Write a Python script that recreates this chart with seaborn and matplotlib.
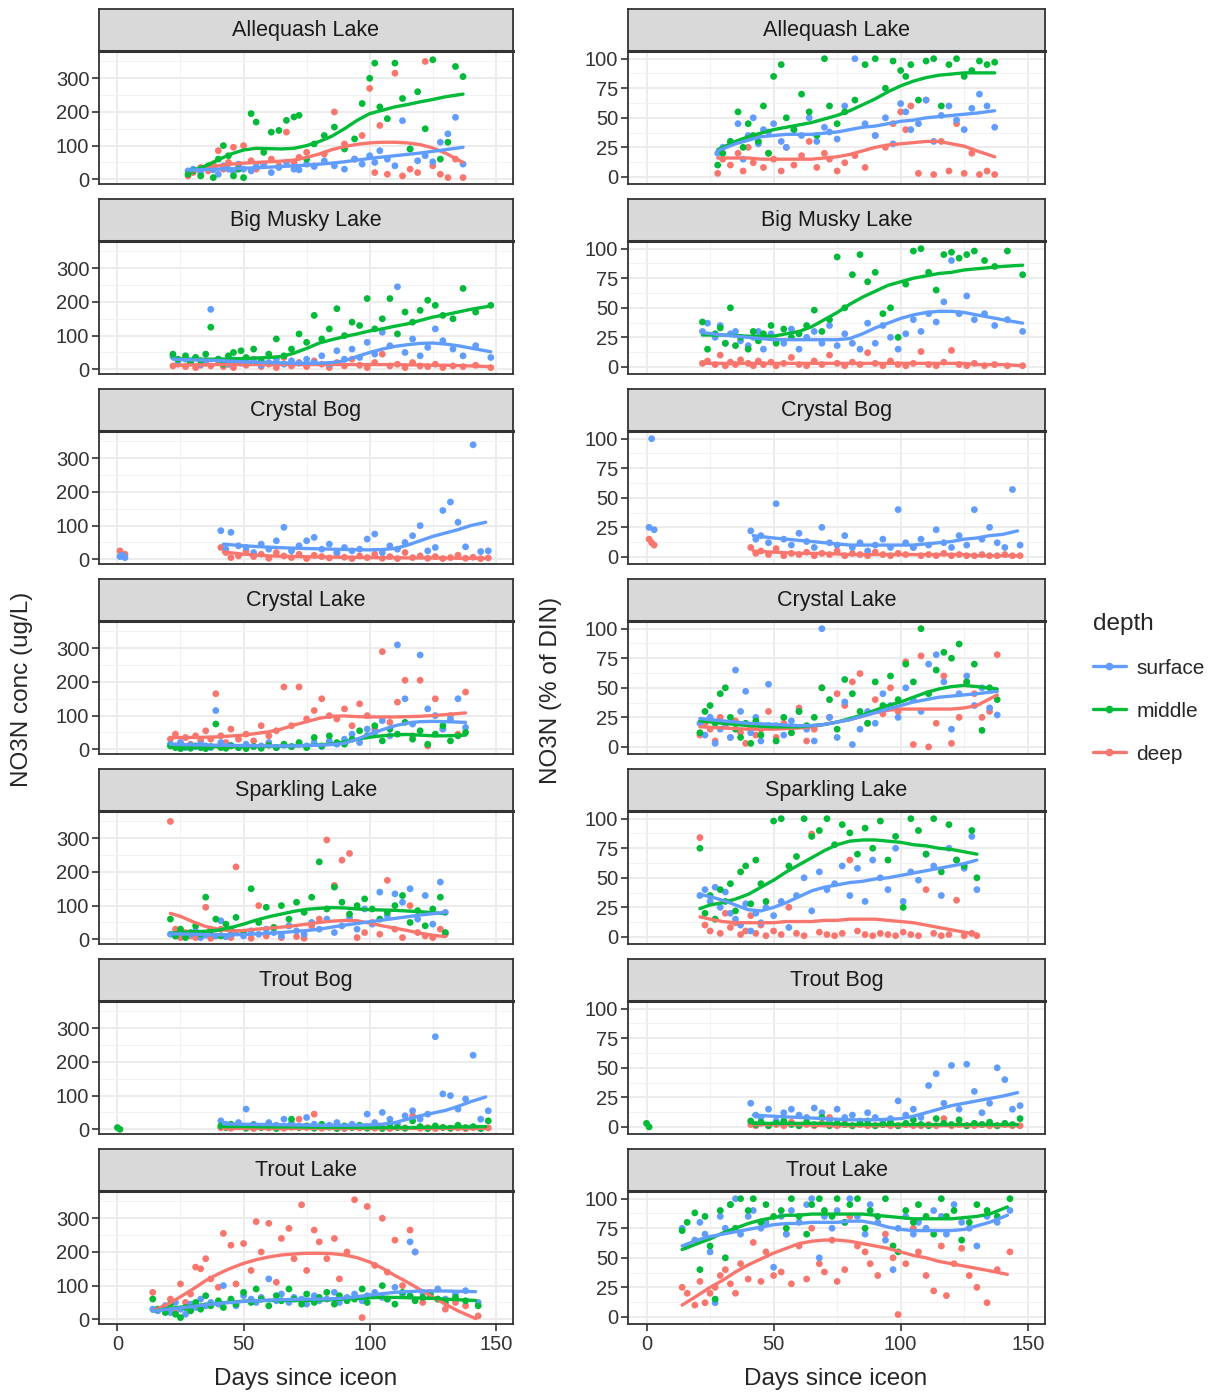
import numpy as np
import pandas as pd
import matplotlib
matplotlib.use("Agg")
import matplotlib.pyplot as plt
import seaborn as sns
from matplotlib.lines import Line2D

# ---------------- data ----------------
LAKES = ["Allequash Lake", "Big Musky Lake", "Crystal Bog", "Crystal Lake",
         "Sparkling Lake", "Trout Bog", "Trout Lake"]
DEPTHS = ["surface", "middle", "deep"]
COLORS = {"surface": "#619CFF", "middle": "#00BA38", "deep": "#F8766D"}
X_TICKS = [0, 50, 100, 150]
CONC_TICKS = [0, 100, 200, 300]
PCT_TICKS = [0, 25, 50, 75, 100]

# Allequash Lake
ALLEQ_DAYS = [28, 30, 33, 36, 38, 40, 42, 44, 46, 48, 50, 53, 55, 58, 61, 64, 67, 70, 72, 75,
              78, 82, 86, 90, 94, 97, 100, 102, 104, 107, 110, 113, 116, 119, 122, 125, 128, 131, 134, 137]
ALLEQ_CONC_SURF = [25, 30, 20, 35, 28, 15, 40, 30, 22, 45, 30, 25, 38, 42, 20, 35, 50, 30, 28, 45,
                   38, 55, 40, 30, 60, 45, 70, 50, 85, 60, 40, 174, 90, 55, 70, 52, 110, 135, 184, 45]
ALLEQ_CONC_MID = [15, 25, 10, 40, 5, 60, 100, 70, 10, 30, 5, 195, 170, 80, 140, 145, 175, 185, 190, 60,
                  105, 130, 155, 90, 120, 225, 300, 345, 215, 180, 345, 240, 90, 260, 150, 355, 60, 110, 335, 305]
ALLEQ_CONC_DEEP = [10, 20, 35, 25, 45, 85, 30, 50, 95, 40, 100, 55, 30, 45, 60, 40, 140, 50, 65, 80,
                   40, 75, 200, 105, 60, 130, 270, 20, 160, 15, 315, 10, 30, 20, 350, 40, 15, 5, 60, 5]
ALLEQ_PCT_SURF = [20, 25, 30, 45, 15, 35, 50, 28, 40, 38, 45, 30, 25, 40, 35, 50, 30, 42, 38, 32,
                  60, 100, 45, 35, 50, 28, 62, 55, 40, 45, 65, 30, 52, 60, 48, 40, 58, 70, 60, 42]
ALLEQ_PCT_MID = [10, 20, 30, 55, 25, 45, 35, 30, 60, 20, 85, 95, 50, 40, 70, 55, 35, 100, 60, 45,
                 55, 65, 95, 100, 75, 98, 90, 85, 95, 65, 98, 100, 60, 95, 100, 85, 90, 98, 95, 97]
ALLEQ_PCT_DEEP = [3, 15, 10, 20, 5, 25, 12, 35, 8, 20, 15, 5, 25, 10, 18, 30, 8, 20, 15, 5,
                  12, 18, 8, 35, 25, 45, 55, 40, 60, 3, 65, 2, 30, 5, 45, 3, 20, 2, 5, 2]
ALLEQ_FIT_DAYS = [28, 35, 40, 45, 50, 55, 60, 65, 70, 75, 80, 85, 90, 95, 100, 105, 110, 115, 120, 125, 130, 137]
ALLEQ_FIT_CONC_SURF = [27, 29, 30, 31, 33, 34, 36, 38, 40, 42, 45, 48, 52, 57, 62, 66, 70, 74, 78, 83, 88, 95]
ALLEQ_FIT_CONC_MID = [22, 40, 58, 75, 87, 92, 91, 90, 92, 100, 112, 128, 150, 175, 195, 205, 215, 222, 230, 237, 245, 253]
ALLEQ_FIT_CONC_DEEP = [22, 32, 40, 45, 48, 50, 52, 54, 57, 65, 75, 88, 97, 104, 108, 110, 110, 108, 103, 93, 78, 50]
ALLEQ_FIT_PCT_SURF = [22, 28, 31, 34, 35, 36, 36, 36, 37, 38, 40, 42, 43, 45, 47, 48, 50, 51, 52, 53, 54, 56]
ALLEQ_FIT_PCT_MID = [23, 30, 34, 37, 40, 42, 44, 46, 49, 52, 56, 61, 66, 72, 77, 81, 84, 86, 87, 88, 88, 88]
ALLEQ_FIT_PCT_DEEP = [16, 16, 16, 15, 15, 15, 15, 15, 16, 17, 19, 22, 25, 27, 28, 29, 30, 30, 28, 26, 22, 17]

# Big Musky Lake
BIGM_DAYS = [22, 24, 27, 29, 31, 33, 35, 37, 40, 42, 44, 46, 49, 51, 54, 57, 60, 63, 66, 69, 72, 75,
             78, 81, 84, 87, 90, 93, 96, 99, 102, 105, 108, 111, 114, 117, 120, 123, 126, 129, 133, 137, 142, 148]
BIGM_CONC_SURF = [38, 25, 30, 20, 35, 15, 25, 178, 30, 20, 15, 28, 18, 25, 22, 12, 20, 30, 15, 25, 18, 30,
                  20, 40, 15, 55, 30, 60, 35, 80, 45, 110, 70, 245, 50, 90, 40, 65, 120, 85, 60, 40, 70, 35]
BIGM_CONC_MID = [45, 30, 40, 20, 35, 25, 45, 125, 30, 15, 40, 50, 55, 35, 60, 25, 45, 90, 40, 60, 105, 80,
                 160, 90, 120, 180, 100, 140, 130, 210, 120, 150, 210, 105, 170, 140, 175, 205, 190, 160, 150, 240, 170, 190]
BIGM_CONC_DEEP = [10, 15, 8, 20, 5, 12, 18, 10, 25, 8, 15, 5, 20, 12, 30, 8, 15, 5, 35, 10, 20, 8,
                  25, 15, 5, 20, 10, 30, 12, 5, 20, 45, 10, 15, 5, 20, 10, 8, 15, 5, 10, 8, 12, 5]
BIGM_PCT_SURF = [30, 37, 25, 35, 20, 28, 30, 22, 18, 25, 30, 15, 28, 22, 20, 32, 15, 25, 30, 20, 35, 18,
                 28, 20, 15, 37, 20, 35, 25, 15, 28, 40, 30, 45, 38, 55, 90, 45, 60, 40, 45, 35, 40, 30]
BIGM_PCT_MID = [38, 15, 28, 33, 20, 50, 18, 25, 15, 30, 22, 28, 35, 20, 32, 25, 28, 35, 48, 30, 40, 93,
                50, 78, 95, 72, 80, 45, 50, 25, 70, 98, 100, 80, 65, 95, 97, 92, 95, 98, 90, 85, 98, 78]
BIGM_PCT_DEEP = [3, 5, 2, 10, 1, 4, 2, 6, 3, 1, 5, 2, 4, 1, 3, 8, 2, 1, 5, 2, 10, 3,
                 1, 4, 2, 12, 3, 1, 5, 2, 1, 3, 13, 2, 1, 4, 14, 2, 1, 3, 1, 2, 1, 1]
BIGM_FIT_DAYS = [22, 30, 40, 50, 60, 65, 70, 75, 80, 85, 90, 95, 100, 105, 110, 115, 120, 125, 130, 135, 140, 148]
BIGM_FIT_CONC_SURF = [30, 28, 26, 22, 20, 19, 18, 18, 18, 20, 25, 38, 50, 60, 68, 73, 77, 78, 75, 70, 63, 52]
BIGM_FIT_CONC_MID = [32, 30, 30, 32, 35, 38, 48, 62, 78, 88, 97, 105, 114, 120, 128, 135, 145, 155, 162, 170, 178, 188]
BIGM_FIT_CONC_DEEP = [12, 13, 14, 14, 14, 14, 14, 14, 14, 14, 14, 14, 14, 14, 14, 13, 13, 12, 12, 11, 10, 8]
BIGM_FIT_PCT_SURF = [29, 27, 25, 23, 23, 23, 23, 23, 24, 28, 33, 37, 41, 44, 46, 47, 47, 46, 44, 42, 40, 37]
BIGM_FIT_PCT_MID = [27, 27, 26, 26, 30, 34, 40, 46, 53, 59, 64, 69, 72, 75, 77, 79, 80, 82, 83, 84, 85, 86]
BIGM_FIT_PCT_DEEP = [3, 3, 3, 3, 3, 3, 3, 3, 3, 3, 3, 3, 3, 3, 3, 3, 3, 3, 2, 2, 2, 1]

# Crystal Bog (no middle samples)
CBOG_DAYS = [1, 2, 3, 41, 43, 45, 48, 51, 54, 57, 60, 63, 66, 69, 72, 75, 78, 81, 84, 87,
             90, 93, 96, 99, 102, 105, 108, 111, 114, 117, 120, 123, 126, 129, 132, 135, 138, 141, 144, 147]
CBOG_CONC_SURF = [8, 12, 5, 85, 30, 80, 40, 35, 20, 45, 30, 55, 95, 25, 40, 55, 65, 30, 45, 20,
                  35, 25, 30, 60, 75, 20, 40, 30, 50, 70, 100, 25, 35, 145, 170, 110, 37, 340, 23, 25]
CBOG_CONC_DEEP = [25, 10, 15, 35, 20, 5, 10, 25, 8, 15, 3, 20, 10, 5, 15, 2, 12, 8, 4, 18,
                  6, 2, 10, 5, 15, 3, 8, 2, 20, 5, 10, 3, 8, 2, 5, 12, 3, 6, 2, 4]
CBOG_PCT_SURF = [25, 100, 23, 22, 15, 18, 12, 45, 15, 10, 20, 13, 8, 25, 12, 10, 18, 8, 12, 5,
                 10, 15, 8, 40, 12, 8, 15, 10, 23, 12, 8, 18, 10, 40, 15, 25, 12, 8, 57, 10]
CBOG_PCT_DEEP = [15, 12, 10, 8, 3, 5, 2, 7, 1, 3, 2, 4, 1, 3, 2, 5, 1, 3, 2, 1,
                 4, 2, 1, 3, 2, 8, 1, 2, 1, 3, 1, 2, 1, 1, 2, 1, 1, 2, 1, 1]
CBOG_FIT_DAYS = [42, 50, 60, 70, 80, 90, 100, 105, 110, 115, 120, 125, 130, 135, 140, 146]
CBOG_FIT_CONC_SURF = [45, 40, 36, 33, 31, 29, 28, 29, 32, 42, 55, 68, 78, 88, 100, 110]
CBOG_FIT_CONC_DEEP = [22, 15, 10, 8, 7, 6, 5, 5, 5, 4, 4, 4, 4, 3, 3, 3]
CBOG_FIT_PCT_SURF = [18, 16, 14, 12, 10, 10, 10, 10, 11, 12, 13, 15, 16, 18, 19, 22]
CBOG_FIT_PCT_DEEP = [5, 4, 3, 3, 2, 2, 2, 2, 2, 2, 2, 2, 1, 1, 1, 1]

# Crystal Lake
CLAKE_DAYS = [21, 23, 25, 27, 29, 31, 33, 35, 37, 39, 41, 43, 45, 48, 51, 54, 57, 60, 63, 66, 69, 72,
              75, 78, 81, 84, 87, 90, 93, 96, 99, 102, 105, 108, 111, 114, 117, 120, 123, 126, 129, 132, 135, 138]
CLAKE_CONC_SURF = [15, 10, 20, 5, 12, 8, 15, 10, 5, 115, 20, 8, 12, 5, 15, 8, 10, 20, 5, 12, 8, 15,
                   10, 20, 8, 25, 15, 30, 45, 20, 60, 50, 85, 40, 310, 150, 75, 280, 120, 100, 60, 90, 150, 65]
CLAKE_CONC_MID = [10, 5, 2, 8, 3, 10, 5, 2, 8, 75, 5, 3, 10, 5, 2, 8, 3, 12, 5, 15, 8, 20,
                  5, 35, 10, 40, 20, 15, 30, 55, 40, 70, 25, 60, 45, 80, 30, 55, 15, 45, 70, 25, 40, 50]
CLAKE_CONC_DEEP = [30, 45, 20, 35, 15, 40, 25, 55, 30, 165, 40, 20, 60, 30, 45, 25, 70, 40, 55, 185, 70, 185,
                   90, 115, 150, 100, 90, 120, 70, 135, 100, 60, 290, 80, 140, 205, 40, 205, 10, 150, 60, 100, 45, 170]
CLAKE_PCT_SURF = [20, 10, 25, 3, 15, 20, 8, 65, 30, 47, 12, 25, 5, 53, 18, 10, 22, 30, 15, 5, 100, 25,
                  8, 38, 2, 15, 30, 20, 45, 35, 25, 50, 40, 30, 70, 78, 55, 15, 45, 60, 35, 50, 33, 27]
CLAKE_PCT_MID = [12, 30, 35, 20, 45, 50, 25, 15, 8, 20, 3, 22, 10, 18, 5, 25, 12, 30, 18, 25, 50, 40,
                 15, 57, 45, 30, 20, 55, 35, 60, 40, 70, 55, 100, 45, 65, 80, 75, 87, 55, 70, 14, 50, 40]
CLAKE_PCT_DEEP = [10, 20, 15, 5, 25, 18, 8, 22, 12, 3, 18, 10, 15, 30, 8, 20, 12, 33, 5, 15, 50, 25,
                  45, 35, 55, 62, 20, 40, 28, 50, 30, 72, 2, 77, 0, 20, 60, 3, 25, 55, 45, 25, 30, 78]
CLAKE_FIT_DAYS = [21, 30, 40, 50, 60, 65, 70, 75, 80, 85, 90, 95, 100, 105, 110, 115, 120, 125, 130, 138]
CLAKE_FIT_CONC_SURF = [15, 13, 12, 11, 10, 10, 10, 11, 12, 14, 18, 30, 45, 58, 70, 78, 82, 83, 82, 80]
CLAKE_FIT_CONC_MID = [8, 8, 8, 8, 9, 9, 10, 11, 13, 16, 22, 30, 36, 40, 43, 44, 42, 40, 40, 42]
CLAKE_FIT_CONC_DEEP = [35, 35, 37, 42, 52, 60, 72, 82, 92, 98, 99, 97, 96, 96, 96, 97, 98, 100, 103, 108]
CLAKE_FIT_PCT_SURF = [24, 22, 20, 19, 18, 18, 19, 21, 23, 26, 29, 32, 35, 38, 40, 42, 43, 44, 45, 47]
CLAKE_FIT_PCT_MID = [22, 20, 18, 17, 17, 18, 19, 21, 24, 27, 31, 35, 38, 42, 46, 49, 51, 52, 51, 49]
CLAKE_FIT_PCT_DEEP = [17, 16, 15, 15, 16, 17, 19, 21, 23, 26, 29, 31, 32, 32, 32, 32, 32, 33, 35, 44]

# Sparkling Lake
SPARK_DAYS = [21, 23, 25, 27, 29, 31, 33, 35, 37, 39, 41, 43, 45, 47, 50, 53, 56, 59, 62, 65, 68,
              71, 74, 77, 80, 83, 86, 89, 92, 95, 98, 101, 104, 107, 110, 113, 116, 119, 122, 125, 128, 130]
SPARK_CONC_SURF = [15, 10, 20, 8, 15, 25, 5, 12, 30, 10, 55, 8, 15, 20, 10, 25, 15, 30, 20, 10, 40,
                   25, 15, 50, 30, 60, 20, 40, 65, 30, 90, 45, 140, 70, 135, 110, 150, 60, 130, 45, 170, 80]
SPARK_CONC_MID = [60, 10, 30, 5, 20, 40, 15, 125, 25, 60, 10, 45, 30, 65, 20, 150, 50, 95, 35, 100, 60,
                  110, 80, 125, 230, 90, 155, 110, 75, 100, 120, 90, 60, 80, 100, 130, 50, 85, 40, 90, 125, 20]
SPARK_CONC_DEEP = [350, 30, 5, 20, 10, 5, 15, 95, 3, 10, 30, 8, 5, 215, 15, 3, 100, 10, 35, 5, 40,
                   8, 3, 40, 60, 295, 160, 235, 255, 5, 20, 50, 15, 175, 30, 5, 100, 20, 10, 5, 30, 15]
SPARK_PCT_SURF = [35, 40, 30, 42, 25, 38, 20, 15, 10, 28, 5, 20, 12, 25, 18, 30, 8, 35, 50, 22, 55,
                  40, 45, 60, 35, 58, 30, 65, 50, 40, 75, 30, 55, 48, 70, 60, 35, 75, 65, 58, 85, 40]
SPARK_PCT_MID = [75, 20, 35, 15, 40, 30, 45, 22, 55, 60, 28, 65, 45, 30, 98, 100, 60, 68, 100, 85, 90,
                 100, 78, 95, 88, 70, 92, 75, 98, 65, 85, 25, 100, 90, 70, 100, 55, 95, 65, 60, 90, 50]
SPARK_PCT_DEEP = [84, 10, 5, 15, 3, 20, 8, 12, 2, 5, 18, 3, 10, 1, 5, 2, 25, 3, 1, 87, 4,
                  2, 1, 3, 65, 5, 2, 1, 3, 2, 1, 4, 2, 1, 40, 3, 1, 2, 31, 1, 3, 1]
SPARK_FIT_DAYS = [21, 25, 30, 35, 40, 45, 50, 55, 60, 65, 70, 75, 80, 85, 90, 95, 100, 105, 110, 115, 120, 125, 130]
SPARK_FIT_CONC_SURF = [16, 16, 15, 14, 13, 13, 14, 16, 18, 20, 23, 26, 30, 36, 42, 47, 52, 57, 62, 67, 72, 76, 80]
SPARK_FIT_CONC_MID = [18, 20, 22, 24, 27, 35, 45, 57, 67, 75, 83, 89, 92, 94, 93, 90, 88, 87, 86, 84, 82, 79, 76]
SPARK_FIT_CONC_DEEP = [77, 68, 52, 38, 30, 25, 26, 30, 33, 36, 40, 45, 50, 54, 56, 55, 48, 40, 33, 26, 18, 12, 8]
SPARK_FIT_PCT_SURF = [36, 34, 31, 27, 23, 22, 25, 29, 34, 39, 42, 44, 46, 47, 49, 50, 52, 54, 56, 58, 60, 62, 65]
SPARK_FIT_PCT_MID = [24, 27, 29, 32, 36, 42, 48, 55, 61, 67, 73, 78, 81, 82, 82, 81, 80, 78, 77, 75, 74, 72, 70]
SPARK_FIT_PCT_DEEP = [17, 15, 13, 12, 12, 12, 12, 13, 13, 13, 14, 14, 15, 15, 15, 14, 13, 12, 10, 8, 6, 4, 2]

# Trout Bog (None = not sampled)
TBOG_DAYS = [0, 1, 41, 43, 45, 48, 51, 54, 57, 60, 63, 66, 69, 72, 75, 78, 81, 84, 87, 90,
             93, 96, 99, 102, 105, 108, 111, 114, 117, 120, 123, 126, 129, 132, 135, 138, 141, 144, 147]
TBOG_CONC_SURF = [None, None, 25, 15, 10, 20, 60, 15, 8, 20, 12, 30, 18, 10, 35, 15, 8, 12, 20, 5,
                  15, 10, 45, 20, 50, 30, 15, 40, 55, 30, 45, 275, 105, 100, 60, 90, 220, 30, 55]
TBOG_CONC_MID = [5, 0, 10, 5, 15, 8, 3, 12, 5, 10, 2, 8, 30, 5, 10, 3, 15, 6, 2, 10,
                 5, 12, 3, 8, 2, 15, 5, 3, 25, 8, 2, 10, 5, 3, 12, 5, 8, 2, 25]
TBOG_CONC_DEEP = [None, None, 5, 8, 3, 10, 5, 2, 8, 4, 10, 3, 6, 30, 5, 45, 3, 8, 5, 2,
                  6, 4, 8, 3, 5, 2, 6, 4, 40, 3, 5, 2, 6, 3, 4, 2, 5, 3, 4]
TBOG_PCT_SURF = [None, None, 20, 10, 8, 15, 5, 12, 15, 10, 8, 16, 12, 5, 15, 8, 10, 5, 12, 8,
                 4, 7, 22, 10, 15, 8, 35, 45, 20, 52, 15, 53, 30, 12, 20, 50, 40, 15, 18]
TBOG_PCT_MID = [3, 0, 5, 2, 4, 1, 3, 5, 2, 1, 4, 2, 8, 1, 3, 2, 1, 3, 5, 1,
                2, 4, 1, 3, 6, 2, 1, 7, 3, 2, 6, 1, 3, 2, 4, 1, 3, 2, 7]
TBOG_PCT_DEEP = [None, None, 2, 1, 3, 1, 2, 1, 4, 1, 2, 1, 3, 8, 1, 6, 1, 2, 1, 1,
                 2, 1, 1, 2, 1, 1, 2, 1, 7, 1, 2, 1, 1, 2, 1, 1, 2, 1, 1]
TBOG_FIT_DAYS = [42, 50, 60, 70, 80, 90, 100, 105, 110, 115, 120, 125, 130, 135, 140, 146]
TBOG_FIT_CONC_SURF = [16, 15, 14, 13, 12, 12, 13, 15, 20, 30, 40, 48, 56, 68, 82, 96]
TBOG_FIT_CONC_MID = [8, 8, 7, 7, 6, 6, 5, 5, 5, 5, 6, 6, 6, 7, 7, 8]
TBOG_FIT_CONC_DEEP = [5, 5, 5, 5, 5, 5, 5, 5, 5, 5, 5, 5, 5, 5, 5, 5]
TBOG_FIT_PCT_SURF = [10, 9, 8, 7, 6, 6, 7, 9, 12, 15, 18, 20, 22, 24, 26, 29]
TBOG_FIT_PCT_MID = [3, 3, 3, 3, 2, 2, 2, 2, 2, 2, 2, 2, 2, 2, 2, 2]
TBOG_FIT_PCT_DEEP = [2, 2, 2, 1, 1, 1, 1, 1, 1, 1, 1, 1, 1, 1, 1, 1]

# Trout Lake
TLAKE_DAYS = [14, 16, 19, 21, 23, 25, 27, 29, 31, 33, 35, 37, 40, 42, 45, 47, 50, 53, 55, 57, 60, 63, 65, 68, 70,
              73, 75, 78, 80, 83, 86, 88, 91, 94, 97, 99, 102, 105, 107, 110, 113, 116, 118, 121, 124, 127, 130, 134, 138, 143]
TLAKE_CONC_SURF = [30, 25, 40, 20, 50, 30, 15, 45, 35, 60, 40, 50, 45, 100, 55, 40, 70, 60, 50, 65, 120, 55, 75, 50, 65,
                   60, 45, 70, 55, 60, 80, 50, 65, 75, 55, 70, 80, 65, 60, 95, 75, 230, 200, 80, 70, 90, 60, 75, 85, 50]
TLAKE_CONC_MID = [60, 30, 20, 45, 15, 5, 35, 25, 50, 30, 70, 40, 55, 35, 60, 45, 80, 50, 90, 60, 40, 70, 55, 90, 60,
                  45, 75, 50, 65, 80, 45, 70, 55, 60, 90, 50, 70, 100, 60, 45, 80, 70, 55, 65, 75, 60, 50, 65, 55, 40]
TLAKE_CONC_DEEP = [80, 30, 40, 60, 20, 105, 50, 75, 155, 150, 180, 120, 95, 255, 220, 105, 225, 145, 290, 200, 285, 110, 240, 270, 180,
                   340, 145, 265, 230, 180, 240, 120, 200, 355, 5, 335, 160, 300, 140, 235, 100, 265, 200, 50, 80, 60, 30, 50, 40, 10]
TLAKE_PCT_SURF = [75, 60, 65, 80, 70, 55, 12, 85, 75, 95, 100, 70, 85, 90, 75, 80, 42, 85, 70, 90, 80, 95, 100, 50, 85,
                  75, 90, 80, 100, 85, 70, 95, 80, 65, 40, 75, 85, 70, 80, 75, 90, 85, 70, 95, 80, 75, 60, 85, 80, 90]
TLAKE_PCT_MID = [73, 80, 88, 40, 85, 60, 15, 90, 50, 95, 75, 100, 90, 100, 80, 95, 85, 90, 75, 100, 85, 70, 95, 100, 90,
                 85, 100, 80, 95, 100, 75, 90, 85, 100, 60, 55, 90, 80, 95, 85, 70, 100, 85, 90, 65, 80, 95, 90, 85, 100]
TLAKE_PCT_DEEP = [25, 20, 10, 30, 12, 20, 25, 35, 40, 28, 20, 45, 32, 63, 30, 55, 35, 38, 70, 28, 60, 32, 75, 45, 38,
                  65, 30, 40, 85, 60, 55, 45, 35, 70, 50, 2, 45, 75, 55, 35, 22, 60, 18, 45, 58, 35, 25, 12, 40, 55]
TLAKE_FIT_DAYS = [14, 20, 25, 30, 35, 40, 45, 50, 55, 60, 65, 70, 75, 80, 85, 90, 95, 100, 105, 110, 115, 120, 125, 130, 135, 142]
TLAKE_FIT_CONC_SURF = [24, 30, 34, 38, 43, 47, 50, 53, 55, 57, 58, 59, 60, 60, 61, 63, 67, 72, 76, 80, 82, 84, 84, 84, 83, 82]
TLAKE_FIT_CONC_MID = [24, 32, 36, 40, 44, 48, 51, 54, 55, 56, 56, 56, 56, 57, 58, 60, 62, 64, 65, 65, 64, 63, 62, 60, 58, 56]
TLAKE_FIT_CONC_DEEP = [25, 45, 67, 90, 115, 135, 152, 166, 177, 185, 191, 194, 196, 196, 195, 191, 183, 170, 152, 130, 110, 88, 66, 45, 25, 2]
TLAKE_FIT_PCT_SURF = [60, 65, 68, 70, 72, 74, 76, 78, 79, 79, 80, 80, 80, 81, 81, 79, 76, 74, 73, 73, 73, 73, 74, 77, 80, 86]
TLAKE_FIT_PCT_MID = [57, 62, 66, 71, 75, 79, 82, 84, 86, 86, 87, 87, 87, 87, 87, 86, 85, 84, 83, 83, 83, 83, 84, 85, 87, 93]
TLAKE_FIT_PCT_DEEP = [10, 18, 25, 31, 38, 44, 49, 54, 58, 62, 64, 65, 65, 64, 62, 60, 58, 55, 52, 50, 47, 45, 43, 41, 39, 36]

# ---------------- assemble tables ----------------
LAKE_DATA = {
    "Allequash Lake": (ALLEQ_DAYS, {"conc": {"surface": ALLEQ_CONC_SURF, "middle": ALLEQ_CONC_MID, "deep": ALLEQ_CONC_DEEP},
                                    "pct": {"surface": ALLEQ_PCT_SURF, "middle": ALLEQ_PCT_MID, "deep": ALLEQ_PCT_DEEP}},
                       ALLEQ_FIT_DAYS, {"conc": {"surface": ALLEQ_FIT_CONC_SURF, "middle": ALLEQ_FIT_CONC_MID, "deep": ALLEQ_FIT_CONC_DEEP},
                                        "pct": {"surface": ALLEQ_FIT_PCT_SURF, "middle": ALLEQ_FIT_PCT_MID, "deep": ALLEQ_FIT_PCT_DEEP}}),
    "Big Musky Lake": (BIGM_DAYS, {"conc": {"surface": BIGM_CONC_SURF, "middle": BIGM_CONC_MID, "deep": BIGM_CONC_DEEP},
                                   "pct": {"surface": BIGM_PCT_SURF, "middle": BIGM_PCT_MID, "deep": BIGM_PCT_DEEP}},
                       BIGM_FIT_DAYS, {"conc": {"surface": BIGM_FIT_CONC_SURF, "middle": BIGM_FIT_CONC_MID, "deep": BIGM_FIT_CONC_DEEP},
                                       "pct": {"surface": BIGM_FIT_PCT_SURF, "middle": BIGM_FIT_PCT_MID, "deep": BIGM_FIT_PCT_DEEP}}),
    "Crystal Bog": (CBOG_DAYS, {"conc": {"surface": CBOG_CONC_SURF, "deep": CBOG_CONC_DEEP},
                                "pct": {"surface": CBOG_PCT_SURF, "deep": CBOG_PCT_DEEP}},
                    CBOG_FIT_DAYS, {"conc": {"surface": CBOG_FIT_CONC_SURF, "deep": CBOG_FIT_CONC_DEEP},
                                    "pct": {"surface": CBOG_FIT_PCT_SURF, "deep": CBOG_FIT_PCT_DEEP}}),
    "Crystal Lake": (CLAKE_DAYS, {"conc": {"surface": CLAKE_CONC_SURF, "middle": CLAKE_CONC_MID, "deep": CLAKE_CONC_DEEP},
                                  "pct": {"surface": CLAKE_PCT_SURF, "middle": CLAKE_PCT_MID, "deep": CLAKE_PCT_DEEP}},
                     CLAKE_FIT_DAYS, {"conc": {"surface": CLAKE_FIT_CONC_SURF, "middle": CLAKE_FIT_CONC_MID, "deep": CLAKE_FIT_CONC_DEEP},
                                      "pct": {"surface": CLAKE_FIT_PCT_SURF, "middle": CLAKE_FIT_PCT_MID, "deep": CLAKE_FIT_PCT_DEEP}}),
    "Sparkling Lake": (SPARK_DAYS, {"conc": {"surface": SPARK_CONC_SURF, "middle": SPARK_CONC_MID, "deep": SPARK_CONC_DEEP},
                                    "pct": {"surface": SPARK_PCT_SURF, "middle": SPARK_PCT_MID, "deep": SPARK_PCT_DEEP}},
                       SPARK_FIT_DAYS, {"conc": {"surface": SPARK_FIT_CONC_SURF, "middle": SPARK_FIT_CONC_MID, "deep": SPARK_FIT_CONC_DEEP},
                                        "pct": {"surface": SPARK_FIT_PCT_SURF, "middle": SPARK_FIT_PCT_MID, "deep": SPARK_FIT_PCT_DEEP}}),
    "Trout Bog": (TBOG_DAYS, {"conc": {"surface": TBOG_CONC_SURF, "middle": TBOG_CONC_MID, "deep": TBOG_CONC_DEEP},
                              "pct": {"surface": TBOG_PCT_SURF, "middle": TBOG_PCT_MID, "deep": TBOG_PCT_DEEP}},
                  TBOG_FIT_DAYS, {"conc": {"surface": TBOG_FIT_CONC_SURF, "middle": TBOG_FIT_CONC_MID, "deep": TBOG_FIT_CONC_DEEP},
                                  "pct": {"surface": TBOG_FIT_PCT_SURF, "middle": TBOG_FIT_PCT_MID, "deep": TBOG_FIT_PCT_DEEP}}),
    "Trout Lake": (TLAKE_DAYS, {"conc": {"surface": TLAKE_CONC_SURF, "middle": TLAKE_CONC_MID, "deep": TLAKE_CONC_DEEP},
                                "pct": {"surface": TLAKE_PCT_SURF, "middle": TLAKE_PCT_MID, "deep": TLAKE_PCT_DEEP}},
                   TLAKE_FIT_DAYS, {"conc": {"surface": TLAKE_FIT_CONC_SURF, "middle": TLAKE_FIT_CONC_MID, "deep": TLAKE_FIT_CONC_DEEP},
                                    "pct": {"surface": TLAKE_FIT_PCT_SURF, "middle": TLAKE_FIT_PCT_MID, "deep": TLAKE_FIT_PCT_DEEP}}),
}

POINT_ORDER = ["deep", "surface", "middle"]
LINE_ORDER = ["deep", "middle", "surface"]


def long_table(days, series, order):
    rows = []
    for depth in order:
        if depth not in series:
            continue
        for d, v in zip(days, series[depth]):
            if v is None:
                continue
            rows.append((d, float(v), depth))
    return pd.DataFrame(rows, columns=["day", "value", "depth"])


# ---------------- figure ----------------
sns.set_theme(style="white")
plt.rcParams["font.family"] = ["Liberation Sans", "DejaVu Sans"]

W, H = 1217, 1393
fig = plt.figure(figsize=(W / 100, H / 100), dpi=100)
fig.patch.set_facecolor("white")

COLS = [(99, 513), (628, 1045)]
ROW_STEP = 190
STRIP_TOP, PANEL_TOP, PANEL_BOT = 9, 51, 184
XLIM = (-7.3, 156.8)
YLIMS = {"conc": (-14, 381), "pct": (-6.0, 106.5)}
BORDER = "#333333"


def frac_rect(x0, x1, ytop, ybot):
    return [x0 / W, 1 - ybot / H, (x1 - x0) / W, (ybot - ytop) / H]


for r, lake in enumerate(LAKES):
    days, vals, fdays, fits = LAKE_DATA[lake]
    for c, measure in enumerate(["conc", "pct"]):
        x0, x1 = COLS[c]
        yo = r * ROW_STEP
        ax = fig.add_axes(frac_rect(x0, x1, PANEL_TOP + yo, PANEL_BOT + yo))
        ax.set_facecolor("white")

        pts = long_table(days, vals[measure], POINT_ORDER)
        sns.scatterplot(data=pts, x="day", y="value", hue="depth", palette=COLORS,
                        s=24, linewidth=0, alpha=1, legend=False, ax=ax, zorder=3)
        fit = long_table(fdays, fits[measure], LINE_ORDER)
        sns.lineplot(data=fit, x="day", y="value", hue="depth", palette=COLORS,
                     hue_order=[d for d in LINE_ORDER if d in fits[measure]],
                     linewidth=2.4, legend=False, ax=ax, zorder=4, sort=True)

        ax.set_xlim(*XLIM)
        ax.set_ylim(*YLIMS[measure])
        ax.set_xticks(X_TICKS)
        ax.set_xticks([25, 75, 125], minor=True)
        if measure == "conc":
            ax.set_yticks(CONC_TICKS)
            ax.set_yticks([50, 150, 250, 350], minor=True)
        else:
            ax.set_yticks(PCT_TICKS)
            ax.set_yticks([12.5, 37.5, 62.5, 87.5], minor=True)
        ax.grid(which="major", color="#EBEBEB", linewidth=1.3, zorder=0)
        ax.grid(which="minor", color="#F2F2F2", linewidth=0.8, zorder=0)
        ax.set_axisbelow(True)
        ax.set_xlabel("")
        ax.set_ylabel("")
        for sp in ax.spines.values():
            sp.set_color(BORDER)
            sp.set_linewidth(1.3)
        ax.tick_params(axis="y", which="major", direction="out", length=5, width=1.2,
                       color=BORDER, labelsize=14.5, labelcolor="#333333", pad=2, left=True)
        ax.tick_params(which="minor", length=0)
        if r == len(LAKES) - 1:
            ax.tick_params(axis="x", which="major", direction="out", length=5, width=1.2,
                           color=BORDER, labelsize=14.5, labelcolor="#333333", pad=3, bottom=True)
        else:
            ax.tick_params(axis="x", which="major", bottom=False, labelbottom=False)

        # strip
        sax = fig.add_axes(frac_rect(x0, x1, STRIP_TOP + yo, PANEL_TOP + yo))
        sax.set_facecolor("#D9D9D9")
        sax.set_xticks([])
        sax.set_yticks([])
        for sp in sax.spines.values():
            sp.set_color(BORDER)
            sp.set_linewidth(1.3)
        sax.spines["bottom"].set_linewidth(2.2)
        sax.text(0.5, 0.48, lake, ha="center", va="center", fontsize=15.5, color="#1A1A1A",
                 transform=sax.transAxes)

# axis titles
fig.text(306 / W, 1 - 1379 / H, "Days since iceon", ha="center", va="center", fontsize=17.5)
fig.text(836 / W, 1 - 1379 / H, "Days since iceon", ha="center", va="center", fontsize=17.5)
fig.text(22 / W, 1 - 689 / H, "NO3N conc (ug/L)", ha="center", va="center", rotation=90, fontsize=17.5)
fig.text(551 / W, 1 - 690 / H, "NO3N (% of DIN)", ha="center", va="center", rotation=90, fontsize=17.5)

# legend
handles = [Line2D([0], [0], color=COLORS[d], lw=2.4, marker="o", markersize=4.5) for d in DEPTHS]
leg = fig.legend(handles, DEPTHS, title="depth", loc="upper left",
                 bbox_to_anchor=(1074 / W, 1 - 594 / H), frameon=False,
                 fontsize=15, title_fontsize=17.5, handlelength=1.6, labelspacing=1.15,
                 handletextpad=0.5, alignment="left")

fig.savefig("out.png", dpi=100, facecolor="white")
